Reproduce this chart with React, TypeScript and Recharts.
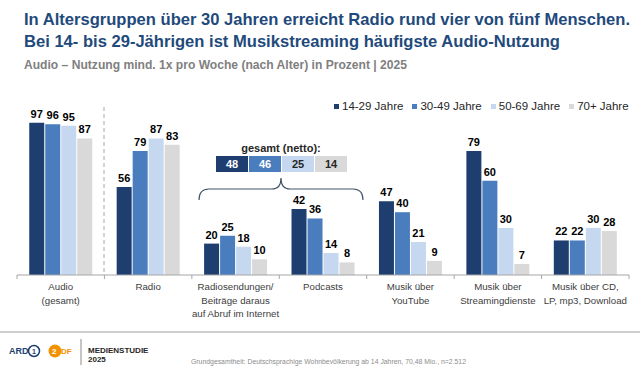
import { BarChart, Bar, XAxis, YAxis, LabelList } from "recharts";

const categories = [
  "Audio\n(gesamt)",
  "Radio",
  "Radiosendungen/\nBeiträge daraus\nauf Abruf im Internet",
  "Podcasts",
  "Musik über\nYouTube",
  "Musik über\nStreamingdienste",
  "Musik über CD,\nLP, mp3, Download",
];

const seriesNames = ["14-29 Jahre", "30-49 Jahre", "50-69 Jahre", "70+ Jahre"];
const age14to29 = [97, 56, 20, 42, 47, 79, 22];
const age30to49 = [96, 79, 25, 36, 40, 60, 22];
const age50to69 = [95, 87, 18, 14, 21, 30, 30];
const age70plus = [87, 83, 10, 8, 9, 7, 28];

// gesamt (netto) for the on-demand group, same order as the series
const gesamtNetto = [48, 46, 25, 14];

const colors = ["#1f3e70", "#4a7dbd", "#c6d8ef", "#d9d9d9"];
const keys = ["a", "b", "c", "d"];

const chartData = categories.map((name, i) => ({
  name,
  a: age14to29[i],
  b: age30to49[i],
  c: age50to69[i],
  d: age70plus[i],
}));

const FONT = "'Liberation Sans', Arial, sans-serif";
const BAND = 612 / categories.length;

function CategoryTick(props: any) {
  const { x, payload, index } = props;
  const lines = String(payload.value).split("\n");
  return (
    <g>
      <line x1={x - BAND / 2} x2={x - BAND / 2} y1={275} y2={279} stroke="#a6a6a6" />
      {index === categories.length - 1 && (
        <line x1={x + BAND / 2} x2={x + BAND / 2} y1={275} y2={279} stroke="#a6a6a6" />
      )}
      <text x={x} y={290} textAnchor="middle" fontSize={9.7} fill="#404040" fontFamily={FONT}>
        {lines.map((l, i) => (
          <tspan key={i} x={x} dy={i === 0 ? 0 : 13.5}>
            {l}
          </tspan>
        ))}
      </text>
    </g>
  );
}

export default function App() {
  return (
    <div
      style={{
        position: "absolute",
        left: 0,
        top: 0,
        width: 640,
        height: 371,
        background: "#fff",
        fontFamily: FONT,
        overflow: "hidden",
      }}
    >
      <BarChart
        width={640}
        height={371}
        data={chartData}
        margin={{ top: 118, right: 11, bottom: 66, left: 17 }}
        barCategoryGap="14%"
        barGap={1}
      >
        <XAxis
          dataKey="name"
          axisLine={{ stroke: "#a6a6a6" }}
          tickLine={false}
          interval={0}
          tick={<CategoryTick />}
        />
        <YAxis hide domain={[0, 100]} />
        {keys.map((k, i) => (
          <Bar key={k} dataKey={k} name={seriesNames[i]} fill={colors[i]} isAnimationActive={false}>
            <LabelList
              dataKey={k}
              position="top"
              offset={5}
              fill="#000"
              fontSize={11}
              fontWeight="bold"
              fontFamily={FONT}
            />
          </Bar>
        ))}
      </BarChart>

      {/* legend */}
      <div
        style={{
          position: "absolute",
          top: 100,
          left: 334,
          display: "flex",
          whiteSpace: "nowrap",
          fontSize: 11.5,
          color: "#262626",
        }}
      >
        {seriesNames.map((n, i) => (
          <div key={n} style={{ display: "flex", alignItems: "center", marginRight: 9 }}>
            <span
              style={{ width: 5, height: 5, background: colors[i], display: "inline-block", marginRight: 3 }}
            />
            {n}
          </div>
        ))}
      </div>

      <svg
        width={640}
        height={371}
        style={{ position: "absolute", left: 0, top: 0, pointerEvents: "none" }}
      >
        <text x={24} y={25} fontSize={16.6} fontWeight="bold" fill="#1f4a7c" textLength={606} lengthAdjust="spacingAndGlyphs">
          In Altersgruppen über 30 Jahren erreicht Radio rund vier von fünf Menschen.
        </text>
        <text x={24} y={47} fontSize={16.6} fontWeight="bold" fill="#1f4a7c" textLength={536} lengthAdjust="spacingAndGlyphs">
          Bei 14- bis 29-Jährigen ist Musikstreaming häufigste Audio-Nutzung
        </text>
        <text x={24} y={69} fontSize={12} fontWeight="bold" fill="#808080" textLength={383} lengthAdjust="spacingAndGlyphs">
          Audio – Nutzung mind. 1x pro Woche (nach Alter) in Prozent | 2025
        </text>

        {/* divider between Audio (gesamt) and the rest */}
        <line x1={104} x2={104} y1={107} y2={275} stroke="#a6a6a6" strokeDasharray="4 3" />

        {/* gesamt (netto) box */}
        <text x={281} y={152} textAnchor="middle" fontSize={11} fontWeight="bold" fill="#262626">
          gesamt (netto):
        </text>
        {gesamtNetto.map((v, i) => (
          <g key={i}>
            <rect x={216 + i * 33} y={156} width={32} height={16} fill={colors[i]} />
            <text
              x={232 + i * 33}
              y={168}
              textAnchor="middle"
              fontSize={11}
              fontWeight="bold"
              fill={i < 2 ? "#fff" : "#262626"}
            >
              {v}
            </text>
          </g>
        ))}
        <path
          d="M199 200 Q199 189 209 189 L272 189 Q281 189 281 178 Q281 189 290 189 L353 189 Q363 189 363 200"
          fill="none"
          stroke="#44546a"
          strokeWidth={1.2}
        />

        {/* footer */}
        <line x1={0} x2={640} y1={332} y2={332} stroke="#bfbfbf" strokeWidth={1.5} />
        <text x={9} y={354} fontSize={9} fontWeight="bold" fill="#1f3e70">ARD</text>
        <circle cx={34} cy={351} r={5.5} fill="none" stroke="#1f3e70" strokeWidth={1.5} />
        <text x={34} y={354} textAnchor="middle" fontSize={7} fontWeight="bold" fill="#1f3e70">1</text>
        <circle cx={55} cy={351} r={6.5} fill="#f39200" />
        <text x={52} y={354} fontSize={8} fontWeight="bold" fill="#fff">2</text>
        <text x={61} y={354} fontSize={8} fontWeight="bold" fill="#f39200">DF</text>
        <line x1={81} x2={81} y1={339} y2={365} stroke="#8c8c8c" />
        <text x={88} y={353} fontSize={8} fontWeight="bold" fill="#262626">MEDIENSTUDIE</text>
        <text x={88} y={362} fontSize={8} fontWeight="bold" fill="#262626">2025</text>
        <text x={191} y={364} fontSize={8} fill="#8c8c8c" textLength={275} lengthAdjust="spacingAndGlyphs">
          Grundgesamtheit: Deutschsprachige Wohnbevölkerung ab 14 Jahren, 70,48 Mio., n=2.512
        </text>
      </svg>
    </div>
  );
}
